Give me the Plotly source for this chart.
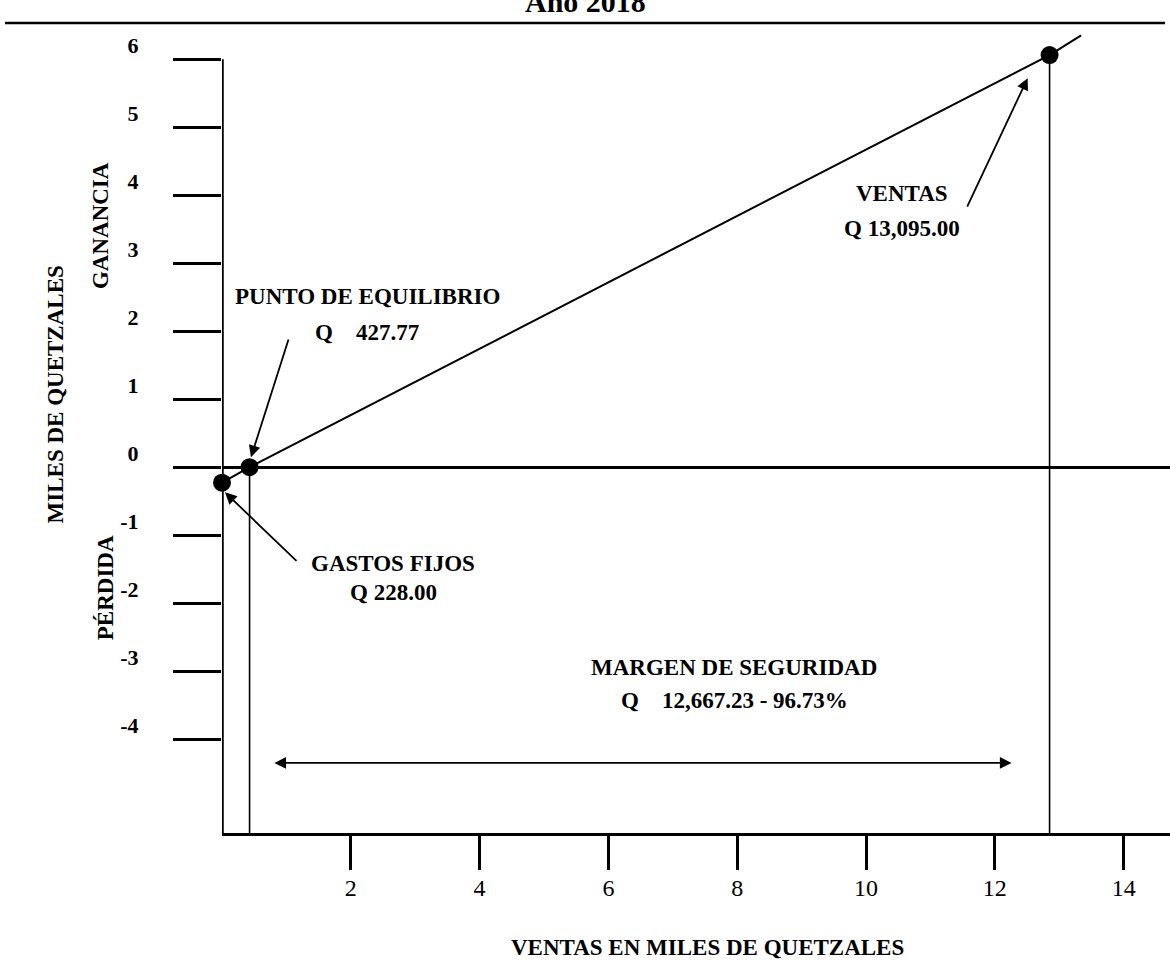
import plotly.graph_objects as go

# ---------------- data (miles de quetzales) ----------------
x_ticks = [2, 4, 6, 8, 10, 12, 14]
x_tick_text = ["2", "4", "6", "8", "10", "12", "14"]
y_ticks = [-4, -3, -2, -1, 0, 1, 2, 3, 4, 5, 6]
y_tick_text = ["-4", "-3", "-2", "-1", "0", "1", "2", "3", "4", "5", "6"]

# sales / profit line as drawn
linea_x = [0.0, 0.428, 12.85, 13.34]
linea_y = [-0.228, 0.0, 6.06, 6.35]

# marked points: gastos fijos, punto de equilibrio, ventas
puntos_nombre = ["GASTOS FIJOS", "PUNTO DE EQUILIBRIO", "VENTAS"]
puntos_x = [0.0, 0.428, 12.85]
puntos_y = [-0.228, 0.0, 6.06]

# margen de seguridad (extent of the double arrow)
margen_x = [0.79, 12.26]
margen_y = -4.35

# ---------------- layout constants ----------------
X_RANGE = [0, 14.72]
Y_RANGE = [-5.38, 6.87]
SERIF = "Liberation Serif"
BLACK = "#000000"
ML, MR, MT, MB = 222, 0, 0, 128
W, H = 1170, 961
PW, PH = W - ML - MR, H - MT - MB


def px_x(px):
    return (px - ML) / PW


def px_y(py):
    return (H - MB - py) / PH


bold = dict(family=SERIF, size=23, color=BLACK, weight="bold")

fig = go.Figure()

# y axis line (from the x axis up to the top tick)
fig.add_trace(go.Scatter(x=[0, 0], y=[Y_RANGE[0], y_ticks[-1]], mode="lines",
                         line=dict(color=BLACK, width=3.5), hoverinfo="skip",
                         cliponaxis=False))

# drop lines from break-even point and sales point
for i in (1, 2):
    fig.add_trace(go.Scatter(x=[puntos_x[i], puntos_x[i]], y=[puntos_y[i], Y_RANGE[0]],
                             mode="lines", line=dict(color=BLACK, width=1.6),
                             hoverinfo="skip", cliponaxis=False))

# sales line
fig.add_trace(go.Scatter(x=linea_x, y=linea_y, mode="lines",
                         line=dict(color=BLACK, width=2), hoverinfo="skip",
                         cliponaxis=False))

# points
fig.add_trace(go.Scatter(x=puntos_x, y=puntos_y, mode="markers", text=puntos_nombre,
                         marker=dict(size=18, color=BLACK), cliponaxis=False,
                         hoverinfo="text"))

ann = []


def label(text, x, y, xref="x", yref="y", font=bold, angle=0, xanchor="center",
          yanchor="middle"):
    ann.append(dict(text=text, x=x, y=y, xref=xref, yref=yref, showarrow=False,
                    font=font, textangle=angle, xanchor=xanchor, yanchor=yanchor))


def arrow(x, y, ax, ay, both=False):
    d = dict(text="", x=x, y=y, ax=ax, ay=ay, xref="x", yref="y", axref="x",
             ayref="y", showarrow=True, arrowhead=2, arrowsize=1.3, arrowwidth=1.8,
             arrowcolor=BLACK, standoff=0, startstandoff=0)
    if both:
        d.update(arrowside="end+start", startarrowhead=2, startarrowsize=1.3)
    ann.append(d)


nb = "\u00a0"
# texts
label("PUNTO DE EQUILIBRIO", 2.256, 2.515)
label("Q" + nb * 4 + "427.77", 2.256, 1.985)
label("GASTOS" + nb + "FIJOS", 2.66, -1.41)
label("Q 228.00", 2.66, -1.85)
label("VENTAS", 10.56, 4.03)
label("Q 13,095.00", 10.56, 3.51)
label("MARGEN DE SEGURIDAD", 7.95, -2.94)
label("Q" + nb * 4 + "12,667.23 - 96.73%", 7.95, -3.43)

# axis titles
label("MILES DE QUETZALES", px_x(55), 1.07, xref="paper", angle=-90)
label("GANANCIA", px_x(100), 3.56, xref="paper", angle=-90)
label("PÉRDIDA", px_x(105), -1.78, xref="paper", angle=-90)
label("VENTAS EN MILES DE QUETZALES", px_x(707), px_y(947), xref="paper", yref="paper")

# heading, cut off at the top edge as in the scan
label("Año 2018", px_x(585), px_y(20), xref="paper", yref="paper",
      font=dict(family=SERIF, size=30, color=BLACK, weight="bold"), yanchor="bottom")

# arrows
arrow(0.45, 0.147, 1.04, 1.90)
arrow(0.047, -0.37, 1.18, -1.40)
arrow(12.51, 5.72, 11.56, 3.81)
arrow(margen_x[1], margen_y, margen_x[0], margen_y, both=True)

fig.update_layout(
    width=W, height=H,
    margin=dict(l=ML, r=MR, t=MT, b=MB, pad=0),
    paper_bgcolor="white", plot_bgcolor="white",
    showlegend=False,
    annotations=ann,
    shapes=[dict(type="line", xref="paper", yref="paper",
                 x0=px_x(5), x1=px_x(1165), y0=px_y(23), y1=px_y(23),
                 line=dict(color=BLACK, width=2.5))],
    xaxis=dict(range=X_RANGE, tickvals=x_ticks, ticktext=x_tick_text,
               ticks="outside", ticklen=34, tickwidth=3, tickcolor=BLACK,
               showline=True, linewidth=3, linecolor=BLACK,
               showgrid=False, zeroline=False, ticklabelstandoff=-3,
               tickfont=dict(family=SERIF, size=24, color=BLACK)),
    yaxis=dict(range=Y_RANGE, tickvals=y_ticks, ticktext=y_tick_text,
               ticks="outside", ticklen=48, tickwidth=3, tickcolor=BLACK,
               showline=False, showgrid=False,
               zeroline=True, zerolinewidth=3, zerolinecolor=BLACK,
               ticklabelshift=-14, ticklabelstandoff=30,
               tickfont=dict(family=SERIF, size=22, color=BLACK, weight="bold")),
)

fig.write_html("out.html", config={"displayModeBar": False},
               post_script="document.body.style.margin='0';")
